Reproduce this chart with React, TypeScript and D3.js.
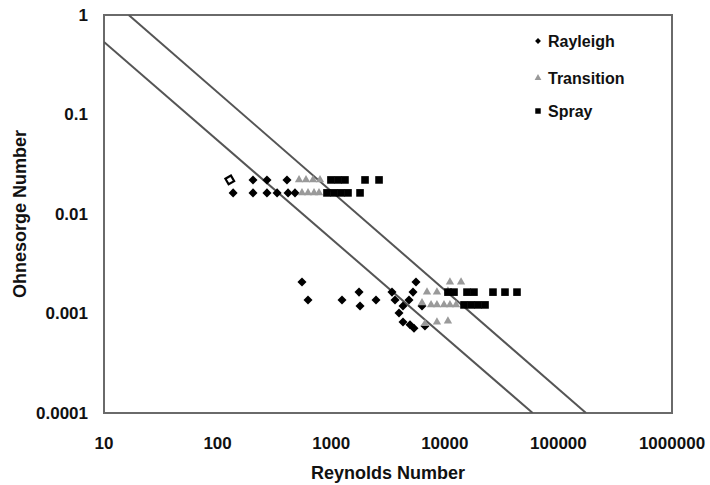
import React from "react";
import * as d3 from "d3";

// axis ticks
const reTicks = [10, 100, 1000, 10000, 100000, 1000000];
const ohTicks = [1, 0.1, 0.01, 0.001, 0.0001];
const ohTickLabels = ["1", "0.1", "0.01", "0.001", "0.0001"];

// [Reynolds, Ohnesorge]
const rayleigh: [number, number][] = [
  [205, 0.022], [272, 0.022], [408, 0.022],
  [137, 0.0163], [205, 0.0163], [272, 0.0163], [334, 0.0163], [417, 0.0163], [480, 0.0163],
  [553, 0.00207], [625, 0.00137], [1245, 0.00137], [1758, 0.00164], [1794, 0.00119],
  [2479, 0.00137], [3428, 0.00164], [3646, 0.00137], [5575, 0.00207], [5250, 0.00164],
  [4840, 0.00137], [4286, 0.00119], [3953, 0.00101], [4286, 0.00082], [4940, 0.00077],
  [5355, 0.00071], [6300, 0.00119], [6690, 0.00075],
];
const rayleighOpen: [number, number][] = [[128, 0.022]];
const transition: [number, number][] = [
  [521, 0.022], [600, 0.022], [692, 0.022], [797, 0.022],
  [553, 0.0163], [625, 0.0163], [706, 0.0163], [781, 0.0163],
  [6970, 0.00164], [8530, 0.00164], [11100, 0.00207], [13900, 0.00207], [10660, 0.00168],
  [6300, 0.00128], [7570, 0.00122], [8530, 0.00122], [9840, 0.00122], [11100, 0.00122], [12560, 0.00122],
  [6690, 0.00079], [8530, 0.00082], [10660, 0.00084],
];
const spray: [number, number][] = [
  [995, 0.022], [1148, 0.022], [1322, 0.022], [1985, 0.022], [2637, 0.022],
  [918, 0.0163], [1059, 0.0163], [1220, 0.0163], [1406, 0.0163], [1794, 0.0163],
  [10660, 0.00164], [12050, 0.00164], [15680, 0.00164], [18060, 0.00164],
  [26550, 0.00164], [33870, 0.00164], [43200, 0.00164],
  [14760, 0.00122], [17020, 0.00122], [19600, 0.00122], [22600, 0.00122],
];
// regime boundary lines
const boundaryLow: [number, number][] = [[10, 0.535], [59400, 0.0001]];
const boundaryHigh: [number, number][] = [[16.5, 1], [175000, 0.0001]];
const legendLabels = ["Rayleigh", "Transition", "Spray"];

const font = "'Liberation Sans', Arial, sans-serif";

export default function App() {
  const left = 104, right = 672, top = 15, bottom = 413;
  const x = d3.scaleLog().domain([10, 1000000]).range([left, right]);
  const y = d3.scaleLog().domain([0.0001, 1]).range([bottom, top]);
  const line = d3.line<[number, number]>().x(d => x(d[0])).y(d => y(d[1]));

  const diamond = d3.symbol().type(d3.symbolDiamond2).size(52)()!;
  const triangle = d3.symbol().type(d3.symbolTriangle).size(30)()!;
  const square = d3.symbol().type(d3.symbolSquare).size(58)()!;
  const diamondS = d3.symbol().type(d3.symbolDiamond2).size(22)()!;
  const triangleS = d3.symbol().type(d3.symbolTriangle).size(20)()!;
  const squareS = d3.symbol().type(d3.symbolSquare).size(30)()!;

  const legendY = [41, 78, 111];
  const legendSym = [diamondS, triangleS, squareS];
  const legendCol = ["#000", "#999", "#000"];

  return (
    <svg width={710} height={485} style={{ position: "absolute", left: 0, top: 0, background: "#fff" }}>
      <defs>
        <clipPath id="plot">
          <rect x={left} y={top} width={right - left} height={bottom - top} />
        </clipPath>
      </defs>
      <rect x={left} y={top} width={right - left} height={bottom - top} fill="none" stroke="#6a6a6a" strokeWidth={2} />
      <g clipPath="url(#plot)" stroke="#555" strokeWidth={2} fill="none">
        <path d={line(boundaryLow)!} />
        <path d={line(boundaryHigh)!} />
      </g>
      {rayleigh.map((d, i) => (
        <path key={"r" + i} d={diamond} transform={`translate(${x(d[0])},${y(d[1])})`} fill="#000" />
      ))}
      {rayleighOpen.map((d, i) => (
        <path key={"o" + i} d={diamond} transform={`translate(${x(d[0])},${y(d[1])}) rotate(15)`} fill="#fff" stroke="#000" strokeWidth={2.2} />
      ))}
      {transition.map((d, i) => (
        <path key={"t" + i} d={triangle} transform={`translate(${x(d[0])},${y(d[1])})`} fill="#9a9a9a" />
      ))}
      {spray.map((d, i) => (
        <path key={"s" + i} d={square} transform={`translate(${x(d[0])},${y(d[1])})`} fill="#000" />
      ))}
      <g fontFamily={font} fontWeight="bold" fill="#111">
        {reTicks.map(t => (
          <text key={t} x={x(t)} y={443} textAnchor="middle" dominantBaseline="central" fontSize={17}>{t}</text>
        ))}
        {ohTicks.map((t, i) => (
          <text key={t} x={88} y={y(t)} textAnchor="end" dominantBaseline="central" fontSize={17}>{ohTickLabels[i]}</text>
        ))}
        <text x={(left + right) / 2} y={473} textAnchor="middle" dominantBaseline="central" fontSize={18}>Reynolds Number</text>
        <text transform={`translate(20,${(top + bottom) / 2}) rotate(-90)`} textAnchor="middle" dominantBaseline="central" fontSize={18}>Ohnesorge Number</text>
        {legendLabels.map((l, i) => (
          <g key={l}>
            <path d={legendSym[i]} transform={`translate(538,${legendY[i]})`} fill={legendCol[i]} />
            <text x={548} y={legendY[i]} dominantBaseline="central" fontSize={16}>{l}</text>
          </g>
        ))}
      </g>
    </svg>
  );
}
